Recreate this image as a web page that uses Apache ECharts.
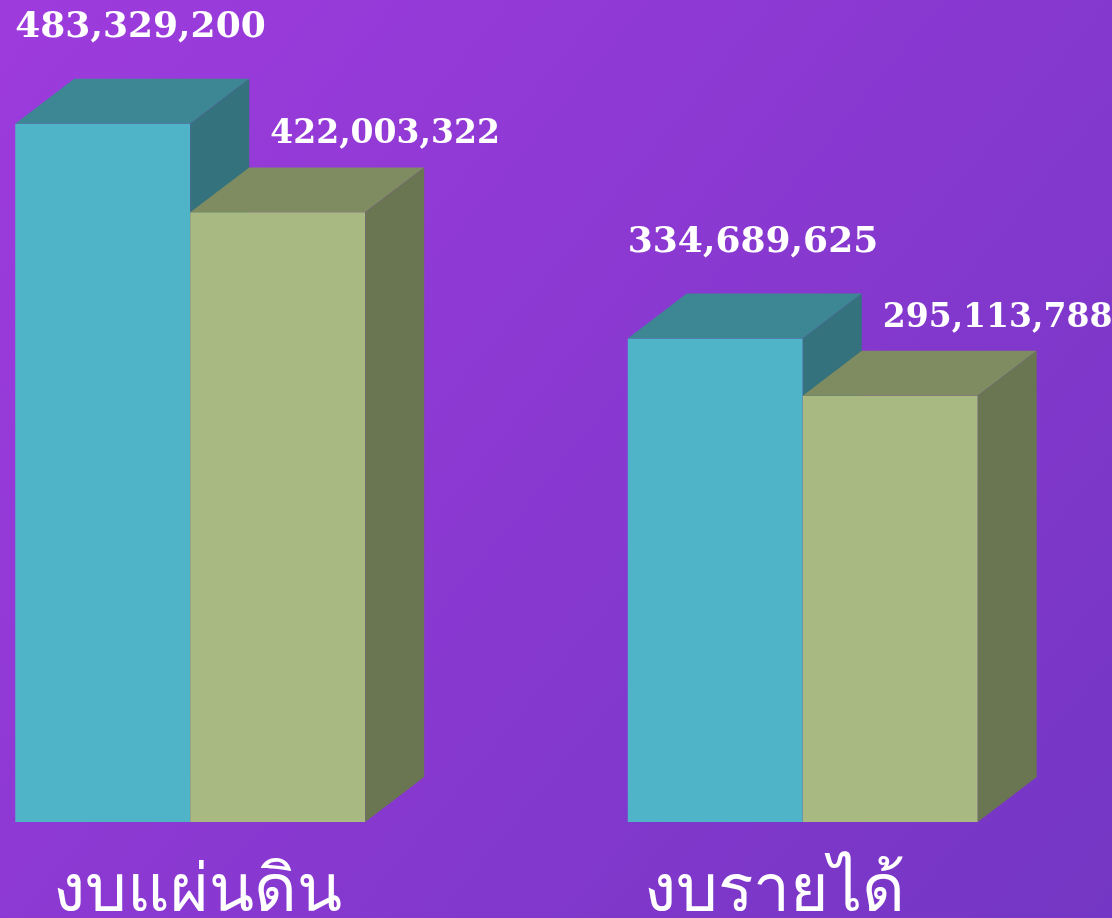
<!DOCTYPE html>
<html>
<head>
<meta charset="utf-8">
<script src="https://cdn.jsdelivr.net/npm/echarts@6/dist/echarts.min.js"></script>
<style>
  html, body { margin: 0; padding: 0; }
  #chart { width: 1112px; height: 918px; }
</style>
</head>
<body>
<div id="chart"></div>
<script>
  const categories = ['งบแผ่นดิน', 'งบรายได้']
  const budgetA = [483329200, 334689625]
  const budgetB = [422003322, 295113788]

  const fmt = v => v.toLocaleString('en-US')

  // draws a fake 3d box; side 0 = left half of band, 1 = right half
  function box3d(side, colors, labelDx, labelDy, labelSize) {
    return function (params, api) {
      const idx = api.value(0)
      const val = api.value(1)
      const top = api.coord([idx, val])
      const base = api.coord([idx, 0])
      const band = api.size([1, 0])[0]
      const w = band * 0.2857
      const dx = w * 0.337
      const dy = w * 0.257
      const x0 = side === 0 ? top[0] - w : top[0]
      const x1 = x0 + w
      const yT = top[1]
      const yB = base[1]
      return {
        type: 'group',
        children: [
          {
            type: 'rect',
            shape: { x: x0, y: yT, width: w, height: yB - yT },
            style: { fill: colors[0] }
          },
          {
            type: 'polygon',
            shape: { points: [[x0, yT], [x1, yT], [x1 + dx, yT - dy], [x0 + dx, yT - dy]] },
            style: { fill: colors[1] }
          },
          {
            type: 'polygon',
            shape: { points: [[x1, yT], [x1 + dx, yT - dy], [x1 + dx, yB - dy], [x1, yB]] },
            style: { fill: colors[2] }
          },
          {
            type: 'text',
            style: {
              x: x0 + labelDx,
              y: yT - labelDy,
              text: fmt(val),
              fill: '#ffffff',
              font: 'bold ' + labelSize + 'px "DejaVu Serif"',
              align: 'left',
              verticalAlign: 'bottom'
            }
          }
        ]
      }
    }
  }

  const chart = echarts.init(document.getElementById('chart'))
  const option = {
    backgroundColor: new echarts.graphic.LinearGradient(0, 0, 1, 1, [
      { offset: 0, color: '#9e3bdd' },
      { offset: 1, color: '#7436c4' }
    ]),
    grid: { left: -116, right: 3, top: 13, bottom: 96, outerBoundsMode: 'none' },
    xAxis: {
      type: 'category',
      data: categories,
      axisLine: { show: false },
      axisTick: { show: false },
      axisLabel: {
        color: '#ffffff',
        margin: 38,
        formatter: (v, i) => (i === 0 ? '{a|' + v + '}' : '{b|' + v + '}'),
        rich: {
          a: { fontSize: 66, color: '#ffffff', padding: [0, 0, 0, 14] },
          b: { fontSize: 66, color: '#ffffff', padding: [0, 56, 0, 0] }
        }
      }
    },
    yAxis: {
      type: 'value',
      min: 0,
      max: 560000000,
      show: false
    },
    series: [
      {
        type: 'custom',
        name: 'A',
        renderItem: box3d(0, ['#50b4c8', '#3d8794', '#34727e'], 0, 78, 36),
        data: budgetA.map((v, i) => [i, v])
      },
      {
        type: 'custom',
        name: 'B',
        renderItem: box3d(1, ['#a9b982', '#7f8b60', '#6a7552'], 80, 61, 33),
        data: budgetB.map((v, i) => [i, v])
      }
    ]
  }
  chart.setOption(option)
</script>
</body>
</html>
